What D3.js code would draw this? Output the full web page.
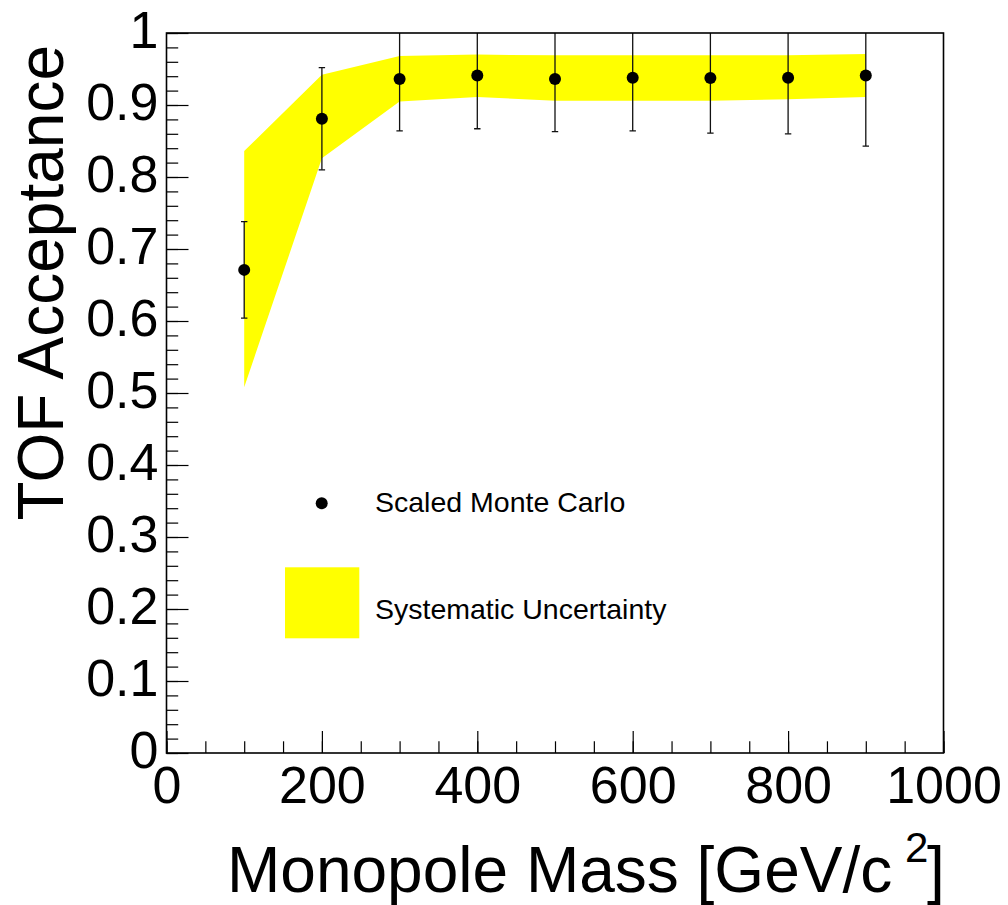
<!DOCTYPE html>
<html>
<head>
<meta charset="utf-8">
<script src="https://cdn.jsdelivr.net/npm/d3@7"></script>
<style>
  body { margin: 0; background: #fff; }
  svg text { font-family: "Liberation Sans", Arial, sans-serif; fill: #000; }
</style>
</head>
<body>
<div id="chart"></div>
<script>
// monopole mass points [GeV/c^2]
const masses = [100, 200, 300, 400, 500, 600, 700, 800, 900];
// scaled Monte Carlo acceptance and its statistical error
const acceptance = [0.671, 0.881, 0.936, 0.941, 0.936, 0.938, 0.9375, 0.938, 0.941];
const accError = [0.067, 0.071, 0.072, 0.074, 0.073, 0.074, 0.0765, 0.078, 0.098];
// systematic band edges
const bandUpper = [0.836, 0.942, 0.968, 0.970, 0.969, 0.969, 0.969, 0.969, 0.971];
const bandLower = [0.508, 0.826, 0.905, 0.911, 0.906, 0.906, 0.906, 0.908, 0.911];
// axis ticks
const xMajor = [0, 200, 400, 600, 800, 1000];
const xMinor = d3.range(0, 1001, 50);
const yMajor = [0, 0.1, 0.2, 0.3, 0.4, 0.5, 0.6, 0.7, 0.8, 0.9, 1];
const yMinor = d3.range(0, 51).map(d => d / 50);
const legendItems = ["Scaled Monte Carlo", "Systematic Uncertainty"];

const width = 1008, height = 905;
const margin = {top: 33, right: 64.5, bottom: 152, left: 166.5};

const svg = d3.select("#chart").append("svg")
  .attr("width", width)
  .attr("height", height);

const x = d3.scaleLinear().domain([0, 1000]).range([margin.left, width - margin.right]);
const y = d3.scaleLinear().domain([0, 1]).range([height - margin.bottom, margin.top]);

svg.append("clipPath").attr("id", "plotclip")
  .append("rect")
  .attr("x", margin.left).attr("y", margin.top)
  .attr("width", x(1000) - x(0)).attr("height", y(0) - y(1));

const pts = masses.map((m, i) => ({m, v: acceptance[i], e: accError[i], hi: bandUpper[i], lo: bandLower[i]}));

// yellow systematic band
const band = d3.area()
  .x(d => x(d.m))
  .y0(d => y(d.lo))
  .y1(d => y(d.hi));
svg.append("path")
  .datum(pts)
  .attr("d", band)
  .attr("fill", "#ffff00");

// error bars
const g = svg.append("g").attr("clip-path", "url(#plotclip)");
g.selectAll("line.err")
  .data(pts)
  .enter().append("line")
  .attr("class", "err")
  .attr("x1", d => x(d.m)).attr("x2", d => x(d.m))
  .attr("y1", d => y(d.v - d.e)).attr("y2", d => y(d.v + d.e))
  .attr("stroke", "#111").attr("stroke-width", 1.3);
g.selectAll("line.caplo")
  .data(pts)
  .enter().append("line")
  .attr("class", "caplo")
  .attr("x1", d => x(d.m) - 3.2).attr("x2", d => x(d.m) + 3.2)
  .attr("y1", d => y(d.v - d.e)).attr("y2", d => y(d.v - d.e))
  .attr("stroke", "#111").attr("stroke-width", 1.3);
g.selectAll("line.caphi")
  .data(pts)
  .enter().append("line")
  .attr("class", "caphi")
  .attr("x1", d => x(d.m) - 3.2).attr("x2", d => x(d.m) + 3.2)
  .attr("y1", d => y(d.v + d.e)).attr("y2", d => y(d.v + d.e))
  .attr("stroke", "#111").attr("stroke-width", 1.3);

// markers
svg.selectAll("circle.pt")
  .data(pts)
  .enter().append("circle")
  .attr("class", "pt")
  .attr("cx", d => x(d.m)).attr("cy", d => y(d.v))
  .attr("r", 6)
  .attr("fill", "#000");

// axes, ticks drawn inside the frame
const xAxisMinor = d3.axisBottom(x).tickValues(xMinor).tickSize(-11.7).tickFormat("");
const xAxisMajor = d3.axisBottom(x).tickValues(xMajor).tickSize(-22).tickPadding(13).tickFormat(d3.format("d"));
const yAxisMinor = d3.axisLeft(y).tickValues(yMinor).tickSize(-11.7).tickFormat("");
const yAxisMajor = d3.axisLeft(y).tickValues(yMajor).tickSize(-22).tickPadding(8).tickFormat(d => d === 0 || d === 1 ? String(d) : d3.format(".1f")(d));

[xAxisMinor, xAxisMajor].forEach(ax => {
  svg.append("g").attr("class", "xaxis")
    .attr("transform", `translate(0,${y(0)})`)
    .call(ax);
});
[yAxisMinor, yAxisMajor].forEach(ax => {
  svg.append("g").attr("class", "yaxis")
    .attr("transform", `translate(${x(0)},0)`)
    .call(ax);
});
svg.selectAll(".xaxis .domain, .yaxis .domain").remove();
svg.selectAll(".xaxis .tick line, .yaxis .tick line").attr("stroke", "#000").attr("stroke-width", 1.2);
svg.selectAll(".xaxis text")
  .attr("font-size", 52)
  .attr("dy", null)
  .attr("y", 50)
  .style("font-family", "Liberation Sans, Arial, sans-serif");
svg.selectAll(".yaxis text")
  .attr("font-size", 52)
  .attr("dy", null)
  .attr("y", 14.5)
  .style("font-family", "Liberation Sans, Arial, sans-serif");

// frame
svg.append("rect")
  .attr("x", x(0)).attr("y", y(1))
  .attr("width", x(1000) - x(0)).attr("height", y(0) - y(1))
  .attr("fill", "none")
  .attr("stroke", "#000")
  .attr("stroke-width", 1.6);

// axis titles
const xt = svg.append("text")
  .attr("x", 227).attr("y", 892)
  .attr("font-size", 64);
xt.append("tspan").text("Monopole Mass [GeV/c");
xt.append("tspan").attr("x", 905).attr("y", 862).attr("font-size", 42).text("2");
xt.append("tspan").attr("x", 927).attr("y", 892).text("]");

svg.append("text")
  .attr("transform", "translate(63,45) rotate(-90)")
  .attr("text-anchor", "end")
  .attr("font-size", 64)
  .text("TOF Acceptance");

// legend
const leg = svg.append("g");
leg.append("circle")
  .attr("cx", 321.7).attr("cy", 503.3).attr("r", 6).attr("fill", "#000");
leg.append("rect")
  .attr("x", 285).attr("y", 567.3).attr("width", 74.3).attr("height", 71)
  .attr("fill", "#ffff00");
leg.selectAll("text.leg")
  .data(legendItems)
  .enter().append("text")
  .attr("class", "leg")
  .attr("x", 375)
  .attr("y", (d, i) => i === 0 ? 512 : 619)
  .attr("font-size", 28.5)
  .text(d => d);
</script>
</body>
</html>
